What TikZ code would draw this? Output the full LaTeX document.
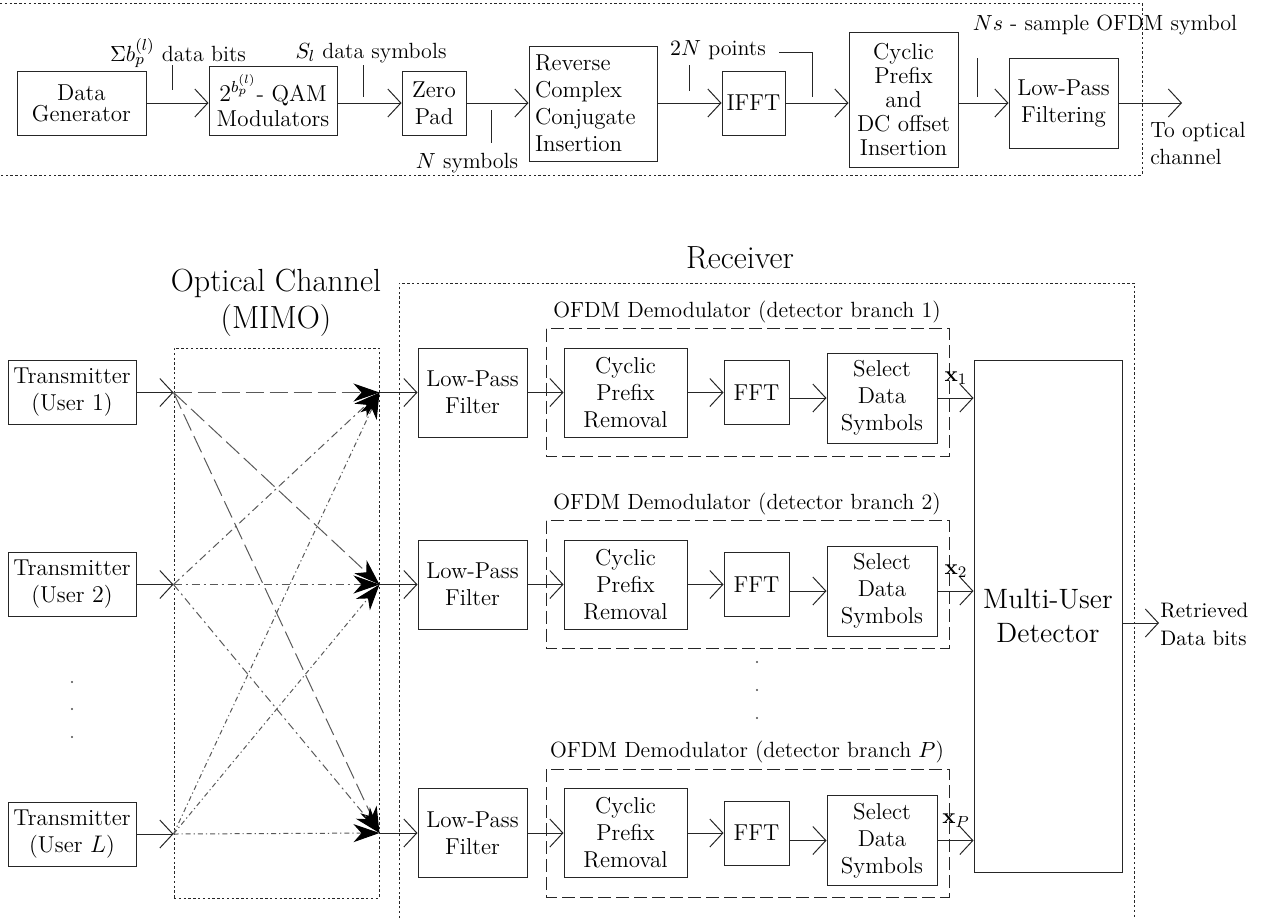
\documentclass[tikz,border=0pt]{standalone}
\usepackage{amsmath}
\usetikzlibrary{arrows.meta}
\tikzset{
  blk/.style={draw=black!85, line width=0.5pt, inner sep=0pt, align=center, font=\fontsize{11.5}{13.5}\selectfont},
  sig/.style={draw=black!85, line width=0.5pt, -{Straight Barb[length=6.5pt,width=14pt]}},
  tick/.style={draw=black!85, line width=0.5pt},
  frame/.style={draw=black!85, line width=0.5pt, dash pattern=on 1.2pt off 1.2pt},
  demod/.style={draw=black!85, line width=0.5pt, dash pattern=on 6.5pt off 2.5pt},
  fan/.style={draw=black!65, line width=0.5pt, -{Stealth[length=13pt,width=9pt,inset=4pt,color=black]}},
  fanA/.style={fan, dash pattern=on 9pt off 3pt},
  fanB/.style={fan, dash pattern=on 4pt off 2pt on 1pt off 2pt},
  fanC/.style={fan, dash pattern=on 2.5pt off 1.5pt on 0.6pt off 1.5pt},
  lbl/.style={font=\fontsize{11}{13.5}\selectfont, inner sep=0pt},
  ttl/.style={font=\fontsize{16}{18.5}\selectfont, inner sep=0pt, align=center}
}
\begin{document}
\begin{tikzpicture}[x=0.5pt,y=-0.5pt]
\useasboundingbox (0,0) rectangle (1263,923);

% transmitter chain
\draw[frame] (0,3) -- (1142,3) -- (1142,175) -- (0,175);
\node[blk, font=\fontsize{11.5}{10.5}\selectfont, minimum width=64.5pt, minimum height=32pt] (gen) at (81.5,103) {Data\\Generator};
\node[blk, font=\fontsize{11.5}{12.5}\selectfont, minimum width=64pt, minimum height=34.5pt] (qam) at (273,100.5) {$2^{b_p^{(l)}}$- QAM\\Modulators};
\node[blk, minimum width=32pt, minimum height=32pt] (zpad) at (434,103) {Zero\\Pad};
\node[blk, align=left, text width=58pt, minimum width=64pt, minimum height=57.5pt] (rci) at (593,103.5) {Reverse\\Complex\\Conjugate\\Insertion};
\node[blk, minimum width=31.5pt, minimum height=32pt] (ifft) at (753.5,103) {IFFT};
\node[blk, font=\fontsize{11.5}{12}\selectfont, minimum width=54.5pt, minimum height=67.5pt] (cpi) at (903.5,99.5) {Cyclic\\Prefix\\and\\DC offset\\Insertion};
\node[blk, minimum width=54.5pt, minimum height=45pt] (lpft) at (1063.5,103) {Low-Pass\\Filtering};
\coordinate (optout) at (1182,103);

\foreach \a/\c in {gen/qam, qam/zpad, zpad/rci, rci/ifft, ifft/cpi, cpi/lpft}
  \draw[sig] (\a.east |- optout) -- (\c.west |- optout);
\draw[sig] (lpft.east |- optout) -- (optout);
\node[lbl, anchor=west, align=left] (optlab) at (1150,143) {To optical\\channel};

\node[lbl] (bitslab) at (178,53) {$\Sigma b_p^{(l)}$ data bits};
\node[lbl] (symlab) at (371,53) {$S_l$ data symbols};
\node[lbl] (nlab) at (467,163) {$N$ symbols};
\node[lbl] (ptslab) at (718,50) {$2N$ points};
\node[lbl] (nslab) at (1105,25) {$Ns$ - sample OFDM symbol};
\draw[tick] (172,65) -- (172,90);
\draw[tick] (363,65) -- (363,97);
\draw[tick] (491,110) -- (491,143);
\draw[tick] (689,65) -- (689,91);
\draw[tick] (779,52) -- (812,52) -- (812,97);
\draw[tick] (977,58) -- (977,97);

% channel and receiver
\node[ttl] (chantitle) at (276,303) {Optical Channel\\(MIMO)};
\node[ttl] (rxtitle) at (740,258) {Receiver};
\node[frame, inner sep=0pt, minimum width=102.5pt, minimum height=275pt] (chan) at (276.5,623) {};
\draw[frame] (399,918) -- (399,283) -- (1134,283) -- (1134,918);

\foreach \usr/\y in {1/392.5, 2/584.5, L/834}
  \node[blk, minimum width=64pt, minimum height=32pt] (tx\usr) at (72,\y) {Transmitter\\(User $\usr$)};
\foreach \y in {682,709,737} \fill[black!70] (72,\y) circle (0.6pt);

\node[blk, font=\fontsize{14}{17}\selectfont, minimum width=74pt, minimum height=256pt] (mud) at (1048,616) {Multi-User\\Detector};
\coordinate (retout) at (1159,623);
\draw[sig] (mud.east |- retout) -- (retout);
\node[lbl, font=\fontsize{10.5}{14}\selectfont, anchor=west, align=left] (retlab) at (1160,624) {Retrieved\\Data bits};

\foreach \k/\y/\ys/\lab in {1/392.5/398/1, 2/584.5/591/2, P/833/840.5/$P$} {
  \node[blk, minimum width=54.5pt, minimum height=44.5pt] (lpf\k) at (472.5,\y) {Low-Pass\\Filter};
  \node[blk, minimum width=61.5pt, minimum height=44.5pt] (cpr\k) at (625.5,\y) {Cyclic\\Prefix\\Removal};
  \node[blk, minimum width=32.5pt, minimum height=32pt] (fft\k) at (756.5,\y) {FFT};
  \node[blk, minimum width=55pt, minimum height=45pt] (sds\k) at (882,\ys) {Select\\Data\\Symbols};
  \draw[demod] (546,\y-64) rectangle (949,\y+64);
  \node[lbl] (demlab\k) at (747,\y-81) {OFDM Demodulator (detector branch \lab)};
  \draw[sig] (lpf\k) -- (cpr\k);
  \draw[sig] (cpr\k) -- (fft\k);
  \draw[sig] (fft\k.east |- sds\k.west) -- (sds\k.west);
  \draw[sig] (sds\k.east) -- (sds\k.east -| mud.west);
  \node[lbl] (xlab\k) at (956,\ys-20) {$\mathbf{x}_{\k}$};
}
\foreach \y in {662,690,718} \fill[black!70] (757,\y) circle (0.6pt);

% MIMO links
\foreach \usr in {1,2,L} \coordinate (src\usr) at (chan.west |- tx\usr.east);
\foreach \k in {1,2,P} \coordinate (dst\k) at (chan.east |- lpf\k.west);
\foreach \usr in {1,2,L} \draw[sig] (tx\usr.east) -- (src\usr);
\foreach \usr/\st in {1/fanA, 2/fanB, L/fanC}
  \foreach \k in {1,2,P} \draw[\st] (src\usr) -- (dst\k);
\foreach \k in {1,2,P} \draw[sig] (dst\k) -- (lpf\k.west);
\end{tikzpicture}
\end{document}
